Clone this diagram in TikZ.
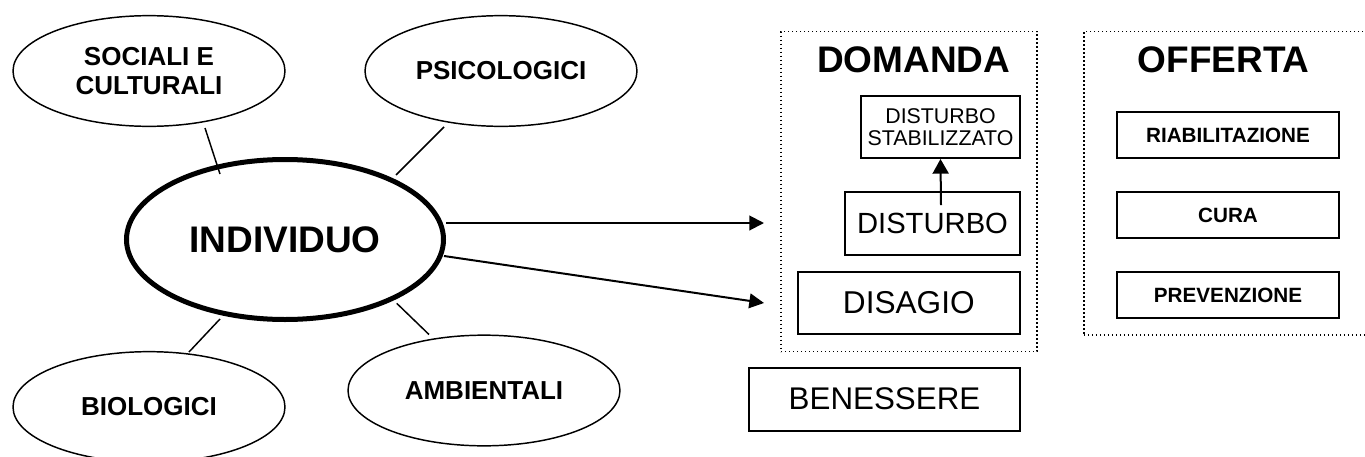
\documentclass[tikz,border=0pt]{standalone}
\usepackage{fontspec}
\setmainfont{Liberation Sans}
\usetikzlibrary{shapes.geometric,arrows.meta,calc}
\begin{document}
\begin{tikzpicture}[x=0.75pt,y=-0.75pt,
  factor/.style={ellipse,draw,line width=1.1pt,inner sep=0pt,
    minimum width=204pt,minimum height=83pt,align=center,
    font=\fontsize{19.5}{21.75}\selectfont\bfseries},
  mainell/.style={ellipse,draw,line width=3.75pt,inner sep=0pt,
    minimum width=237.75pt,minimum height=120pt,
    font=\fontsize{27.75}{30}\selectfont\bfseries},
  rbox/.style={rectangle,draw,line width=1.5pt,inner sep=0pt,align=center},
  dotbox/.style={rectangle,draw,line width=1pt,dash pattern=on 1.1pt off 1.9pt,inner sep=0pt},
  titletxt/.style={inner sep=0pt,font=\fontsize{27.75}{30}\selectfont\bfseries},
  link/.style={line width=1.1pt},
  arr/.style={line width=1.5pt,-{Triangle[length=11pt,width=11pt]}},
  arrsmall/.style={line width=1.5pt,-{Triangle[length=11pt,width=12pt]}}
]
\clip (0,0) rectangle (1365,457);
% factors
\node[factor] (soc) at (149,71) {SOCIALI E\\CULTURALI};
\node[factor] (psi) at (501,71) {PSICOLOGICI};
\node[factor] (bio) at (149,407) {BIOLOGICI};
\node[factor] (amb) at (484,390.5) {AMBIENTALI};
\node[mainell] (ind) at (285,239.5) {INDIVIDUO};
% links
\draw[link] ($(soc.center)+(56,57)$) -- ($(ind.center)+(-65,-65.5)$);
\draw[link] ($(psi.center)+(-57,56)$) -- ($(ind.center)+(111,-64.5)$);
\draw[link] ($(bio.center)+(40,-55)$) -- ($(ind.center)+(-65,79.5)$);
\draw[link] ($(amb.center)+(-55,-56)$) -- ($(ind.center)+(111.7,63.8)$);
% domanda
\node[dotbox,minimum width=192pt,minimum height=240pt] (dom) at (909,191.7) {};
\node[titletxt] (domt) at (913.7,60) {DOMANDA};
\node[rbox,minimum width=119.25pt,minimum height=46.5pt,
  font=\fontsize{16}{16.5}\selectfont] (stab) at (940.5,127) {DISTURBO\\STABILIZZATO};
\node[rbox,minimum width=131.25pt,minimum height=47.25pt,
  font=\fontsize{21.9}{24}\selectfont] (dist) at (932.5,223.2) {DISTURBO};
\node[rbox,minimum width=166.5pt,minimum height=46.7pt,
  font=\fontsize{23.7}{26}\selectfont] (disag) at (908.8,302.8) {DISAGIO};
\node[rbox,minimum width=203.25pt,minimum height=47.25pt,
  font=\fontsize{23.5}{26}\selectfont] (ben) at (884.5,399.2) {BENESSERE};
\draw[arrsmall] ($(dist.center)+(8.5,-18)$) -- (stab.south);
% offerta
\node[dotbox,minimum width=214.5pt,minimum height=227.5pt] (off) at (1226.9,183.35) {};
\node[titletxt] (offt) at (1223.7,60) {OFFERTA};
\node[rbox,minimum width=166pt,minimum height=34.5pt,
  font=\fontsize{15.5}{17}\selectfont\bfseries] (riab) at (1228,135) {RIABILITAZIONE};
\node[rbox,minimum width=166pt,minimum height=34.5pt,
  font=\fontsize{15.5}{17}\selectfont\bfseries] (cura) at (1228,215) {CURA};
\node[rbox,minimum width=166pt,minimum height=34.5pt,
  font=\fontsize{15.5}{17}\selectfont\bfseries] (prev) at (1228,295) {PREVENZIONE};
% arrows
\coordinate (a1end) at (764,223);
\coordinate (a2end) at (764,303);
\draw[arr] ($(ind.center)+(161,-16.5)$) -- (a1end);
\draw[arr] ($(ind.center)+(159,16.5)$) -- (a2end);
\end{tikzpicture}
\end{document}
